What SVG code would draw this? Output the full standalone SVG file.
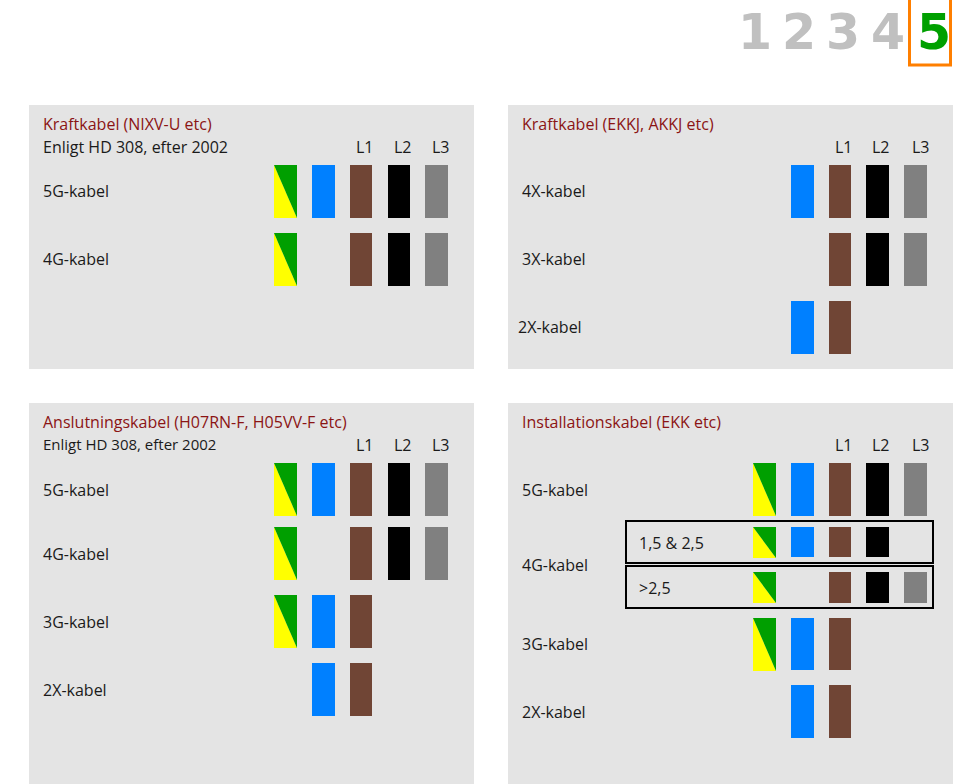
<svg xmlns="http://www.w3.org/2000/svg" width="963" height="784" viewBox="0 0 963 784">
<defs>
<style>
.panel{fill:#e4e4e4}
.t{font-family:"Open Sans","Noto Sans",sans-serif;font-size:16px;fill:#1a1a1a}
.s{font-size:15px}
.h{fill:#8b1414}
.num{font-family:"DejaVu Sans",Verdana,sans-serif;font-weight:bold;font-size:49px;fill:#c0c0c0;text-anchor:middle}
.b{fill:#0080ff}.br{fill:#704535}.k{fill:#000}.g{fill:#808080}.y{fill:#ffff00}.gr{fill:#009f00}
.box{fill:none;stroke:#000;stroke-width:2}
</style>
<g id="gy"><polygon class="y" points="0,0 0,53 23,53"/><polygon class="gr" points="0,0 23,0 23,53"/></g>
<g id="gys"><polygon class="y" points="0,0 0,31 23,31"/><polygon class="gr" points="0,0 23,0 23,31"/></g>
</defs>
<rect width="963" height="784" fill="#fff"/>
<g id="nav">
<text class="num" x="755" y="49">1</text>
<text class="num" x="799" y="49">2</text>
<text class="num" x="843" y="49">3</text>
<text class="num" x="888" y="49">4</text>
<text class="num" x="934" y="49" style="fill:#00a000">5</text>
<rect x="909.5" y="-5" width="41" height="70" fill="none" stroke="#ff7f00" stroke-width="3"/>
</g>
<g id="panel-nixv">
<rect class="panel" x="29" y="105" width="445" height="264"/>
<text class="t h" x="43" y="130">Kraftkabel (NIXV-U etc)</text>
<text class="t" x="43" y="153">Enligt HD 308, efter 2002</text>
<text class="t" x="356" y="153">L1</text><text class="t" x="394" y="153">L2</text><text class="t" x="432" y="153">L3</text>
<text class="t" x="43" y="197">5G-kabel</text>
<use href="#gy" x="274" y="165"/><rect class="b" x="312" y="165" width="23" height="53"/><rect class="br" x="350" y="165" width="22" height="53"/><rect class="k" x="388" y="165" width="22" height="53"/><rect class="g" x="425" y="165" width="23" height="53"/>
<text class="t" x="43" y="265">4G-kabel</text>
<use href="#gy" x="274" y="233"/><rect class="br" x="350" y="233" width="22" height="53"/><rect class="k" x="388" y="233" width="22" height="53"/><rect class="g" x="425" y="233" width="23" height="53"/>
</g>
<g id="panel-ekkj">
<rect class="panel" x="508" y="105" width="445" height="264"/>
<text class="t h" x="522" y="130">Kraftkabel (EKKJ, AKKJ etc)</text>
<text class="t" x="835" y="153">L1</text><text class="t" x="872" y="153">L2</text><text class="t" x="912" y="153">L3</text>
<text class="t" x="522" y="197">4X-kabel</text>
<rect class="b" x="791" y="165" width="23" height="53"/><rect class="br" x="829" y="165" width="22" height="53"/><rect class="k" x="866" y="165" width="23" height="53"/><rect class="g" x="904" y="165" width="23" height="53"/>
<text class="t" x="522" y="265">3X-kabel</text>
<rect class="br" x="829" y="233" width="22" height="53"/><rect class="k" x="866" y="233" width="23" height="53"/><rect class="g" x="904" y="233" width="23" height="53"/>
<text class="t" x="518" y="333">2X-kabel</text>
<rect class="b" x="791" y="301" width="23" height="53"/><rect class="br" x="829" y="301" width="22" height="53"/>
</g>
<g id="panel-ansl">
<rect class="panel" x="29" y="403" width="445" height="381"/>
<text class="t h" x="43" y="428">Anslutningskabel (H07RN-F, H05VV-F etc)</text>
<text class="t s" x="43" y="450">Enligt HD 308, efter 2002</text>
<text class="t" x="356" y="451">L1</text><text class="t" x="394" y="451">L2</text><text class="t" x="432" y="451">L3</text>
<text class="t" x="43" y="496">5G-kabel</text>
<use href="#gy" x="274" y="463"/><rect class="b" x="312" y="463" width="23" height="53"/><rect class="br" x="350" y="463" width="22" height="53"/><rect class="k" x="388" y="463" width="22" height="53"/><rect class="g" x="425" y="463" width="23" height="53"/>
<text class="t" x="43" y="560">4G-kabel</text>
<use href="#gy" x="274" y="527"/><rect class="br" x="350" y="527" width="22" height="53"/><rect class="k" x="388" y="527" width="22" height="53"/><rect class="g" x="425" y="527" width="23" height="53"/>
<text class="t" x="43" y="628">3G-kabel</text>
<use href="#gy" x="274" y="595"/><rect class="b" x="312" y="595" width="23" height="53"/><rect class="br" x="350" y="595" width="22" height="53"/>
<text class="t" x="43" y="696">2X-kabel</text>
<rect class="b" x="312" y="663" width="23" height="53"/><rect class="br" x="350" y="663" width="22" height="53"/>
</g>
<g id="panel-ekk">
<rect class="panel" x="508" y="403" width="445" height="381"/>
<text class="t h" x="522" y="428">Installationskabel (EKK etc)</text>
<text class="t" x="835" y="451">L1</text><text class="t" x="872" y="451">L2</text><text class="t" x="912" y="451">L3</text>
<text class="t" x="522" y="496">5G-kabel</text>
<use href="#gy" x="753" y="463"/><rect class="b" x="791" y="463" width="23" height="53"/><rect class="br" x="829" y="463" width="22" height="53"/><rect class="k" x="866" y="463" width="23" height="53"/><rect class="g" x="904" y="463" width="23" height="53"/>
<text class="t" x="522" y="571">4G-kabel</text>
<rect class="box" x="626" y="521" width="307" height="42"/>
<text class="t" x="639" y="549">1,5 &amp; 2,5</text>
<use href="#gys" x="753" y="527"/><rect class="b" x="791" y="527" width="23" height="30"/><rect class="br" x="829" y="527" width="22" height="30"/><rect class="k" x="866" y="527" width="23" height="30"/>
<rect class="box" x="626" y="566" width="307" height="42"/>
<text class="t" x="639" y="594">&gt;2,5</text>
<use href="#gys" x="753" y="572"/><rect class="br" x="829" y="572" width="22" height="31"/><rect class="k" x="866" y="572" width="23" height="31"/><rect class="g" x="904" y="572" width="23" height="31"/>
<text class="t" x="522" y="650">3G-kabel</text>
<use href="#gy" x="753" y="618"/><rect class="b" x="791" y="618" width="23" height="52"/><rect class="br" x="829" y="618" width="22" height="52"/>
<text class="t" x="522" y="718">2X-kabel</text>
<rect class="b" x="791" y="685" width="23" height="53"/><rect class="br" x="829" y="685" width="22" height="53"/>
</g>
</svg>
